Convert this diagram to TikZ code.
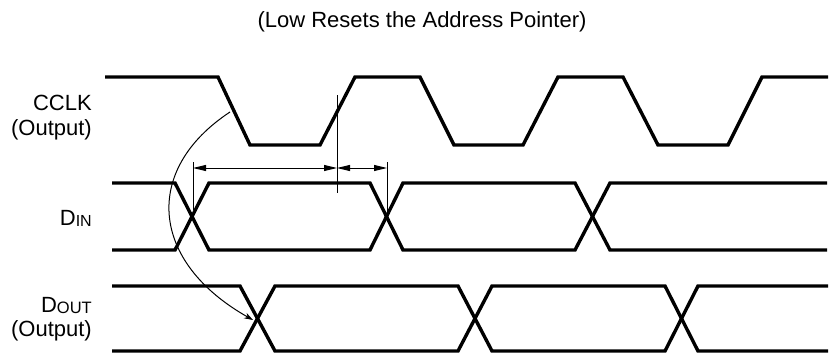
\documentclass[tikz,border=0pt]{standalone}
\usepackage{fontspec}
\setmainfont{Liberation Sans}
\usetikzlibrary{arrows.meta}
\begin{document}
\begin{tikzpicture}[x=1pt,y=-1pt,
  wave/.style={line width=3.4pt},
  thinline/.style={line width=1pt},
  dim/.style={line width=1pt,{Triangle[length=13pt,width=6pt]}-{Triangle[length=13pt,width=6pt]}},
  lbl/.style={anchor=base east,inner sep=0pt,font=\fontsize{22}{26}\selectfont}]
\useasboundingbox (0,0) rectangle (835,353);
% title
\node[anchor=base,inner sep=0pt,font=\fontsize{22}{26}\selectfont] (title) at (422,28) {(Low Resets the Address Pointer)};
% labels
\node[lbl] (cclk) at (92,110) {CCLK};
\node[lbl] (cclkout) at (92,135) {(Output)};
\node[lbl] (din) at (92,225) {D{\fontsize{16}{16}\selectfont\raisebox{-1.5pt}{IN}}};
\node[lbl] (dout) at (92,312) {D{\fontsize{16.5}{16}\selectfont\raisebox{-1.5pt}{OUT}}};
\node[lbl] (doutout) at (92,336) {(Output)};
% CCLK
\draw[wave] (105,77)--(218,77)--(250,145)--(320,145)--(355,77)--(420,77)--(454,145)--(523,145)--(558,77)--(623,77)--(658,145)--(728,145)--(762,77)--(828,77);
% DIN
\draw[wave] (112,183)--(175,183)--(209,250)--(370,250)--(403,183)--(575,183)--(610,250)--(827,250);
\draw[wave] (112,250)--(175,250)--(209,183)--(370,183)--(403,250)--(575,250)--(610,183)--(827,183);
% DOUT
\draw[wave] (112,286)--(240,286)--(275,351)--(458,351)--(492,286)--(665,286)--(698,351)--(828,351);
\draw[wave] (112,351)--(240,351)--(275,286)--(458,286)--(492,351)--(665,351)--(698,286)--(828,286);
% reference lines
\coordinate (v1t) at (193,162); \coordinate (v1b) at (193,210);
\coordinate (v2t) at (337,95);  \coordinate (v2b) at (337,193);
\coordinate (v3t) at (387,162); \coordinate (v3b) at (387,211);
\draw[thinline] (v1t)--(v1b);
\draw[thinline] (v2t)--(v2b);
\draw[thinline] (v3t)--(v3b);
\coordinate (a1) at (193,168); \coordinate (a2) at (337,168); \coordinate (a3) at (387,168);
\draw[dim] (a1)--(a2);
\draw[dim] (a2)--(a3);
% curved arrow
\coordinate (cs) at (230,112); \coordinate (ce) at (253,320);
\draw[thinline,-{Stealth[length=9pt,width=6pt]}] (cs) .. controls (142,170) and (150,262) .. (ce);
\end{tikzpicture}
\end{document}
